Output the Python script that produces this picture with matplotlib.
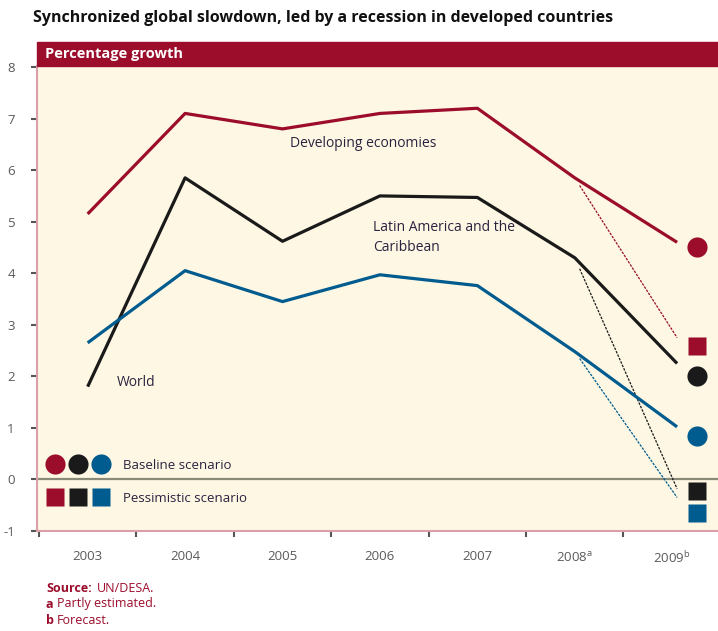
import numpy as np
import matplotlib.pyplot as plt
from matplotlib.patches import Rectangle

years = ["2003", "2004", "2005", "2006", "2007", "2008$^{\\mathregular{a}}$", "2009$^{\\mathregular{b}}$"]

developing = [5.15, 7.1, 6.8, 7.1, 7.2, 5.85, 4.6]
latin_america = [1.8, 5.85, 4.62, 5.5, 5.47, 4.3, 2.25]
world = [2.65, 4.05, 3.45, 3.97, 3.76, 2.48, 1.02]

# 2009 pessimistic path (dashed) end values
pess_line = [2.75, -0.18, -0.35]
# 2009 scenario markers
baseline_2009 = [4.5, 2.0, 0.85]
pessimistic_2009 = [2.58, -0.23, -0.66]

RED = '#9b0d2b'
BLACK = '#1a1a1a'
BLUE = '#005b8f'
CREAM = '#fdf7e3'
PINK = '#d9a0aa'
TXT = '#2a2340'
colors = [RED, BLACK, BLUE]

plt.rcParams['font.family'] = ['Open Sans', 'DejaVu Sans']

fig = plt.figure(figsize=(7.18, 6.31), dpi=100)
ax = fig.add_axes([37 / 718, 1 - 531 / 631, 1 - 37 / 718, (531 - 66) / 631])
ax.set_facecolor(CREAM)

x = np.arange(len(years))
x_end = 6.05  # lines stop a bit right of the 2009 slot centre
x_mark = 6.25

all_series = [developing, latin_america, world]
for series, col in zip(all_series, colors):
    xs = list(x[:-1]) + [x_end]
    ax.plot(xs, series, color=col, lw=2.3, solid_capstyle='butt', zorder=3)

# pessimistic path from 2008 down to 2009
for series, end, col in zip(all_series, pess_line, colors):
    ax.plot([5.05, x_end], [series[5] + 0.05 * (end - series[5]) / 1.05, end],
            color=col, lw=0.9, ls=(0, (2, 1)), zorder=2)

for b, p, col in zip(baseline_2009, pessimistic_2009, colors):
    ax.plot(x_mark, b, 'o', color=col, ms=14.5, mec='none', zorder=4)
    ax.plot(x_mark, p, 's', color=col, ms=13, mec='none', zorder=4)

ax.axhline(0, color='#8a8a78', lw=1.6, zorder=1)

# legend
for j, col in enumerate(colors):
    lx = -0.34 + j * 0.24
    ax.plot(lx, 0.29, 'o', color=col, ms=14.5, mec='none', zorder=4)
    ax.plot(lx, -0.34, 's', color=col, ms=13, mec='none', zorder=4)
ax.text(0.36, 0.27, "Baseline scenario", fontsize=9.5, color=TXT, va='center')
ax.text(0.36, -0.36, "Pessimistic scenario", fontsize=9.5, color=TXT, va='center')

# series labels
ax.text(2.08, 6.52, "Developing economies", fontsize=10, color=TXT, va='center')
ax.text(2.93, 4.69, "Latin America and the\nCaribbean", fontsize=10, color=TXT,
        va='center', linespacing=1.5)
ax.text(0.3, 1.88, "World", fontsize=10, color=TXT, va='center')

ax.set_xlim(-0.52, 6.47)
ax.set_ylim(-1, 8.02)
ax.set_yticks(np.arange(-1, 9))
ax.set_yticklabels([str(v) for v in range(-1, 9)])
ax.set_xticks(x - 0.5)
ax.set_xticklabels([])
ax.set_xticks(x, minor=True)
ax.set_xticklabels(years, minor=True)
ax.tick_params(axis='x', which='minor', length=0, pad=14, labelsize=9.5, labelcolor='#5a5a5a')
ax.tick_params(axis='x', which='major', length=4, width=1.5, color='#555555', direction='out')
ax.tick_params(axis='y', length=4, width=1.5, color='#555555', labelsize=9.5,
               labelcolor='#5a5a5a', pad=12)
for s in ['top', 'right']:
    ax.spines[s].set_visible(False)
for s in ['left', 'bottom']:
    ax.spines[s].set_color(PINK)
    ax.spines[s].set_linewidth(1.5)

# header band
fig.patches.append(Rectangle((37 / 718, 1 - 66 / 631), 1 - 37 / 718, 24 / 631,
                             transform=fig.transFigure, color=RED, zorder=5))
fig.text(45 / 718, 1 - 54 / 631, "Percentage growth", color='white', fontsize=10.5,
         fontweight='bold', va='center', zorder=6)

fig.text(33 / 718, 1 - 18 / 631,
         "Synchronized global slowdown, led by a recession in developed countries",
         fontsize=11.5, fontweight='bold', color='#111111', va='center')

fig.text(46 / 718, 1 - 588 / 631, "Source:", fontsize=9, fontweight='bold', color=RED, va='center')
fig.text(97 / 718, 1 - 588 / 631, "UN/DESA.", fontsize=9, color=RED, va='center')
fig.text(46 / 718, 1 - 604 / 631, "a", fontsize=9, fontweight='bold', color=RED, va='center')
fig.text(57 / 718, 1 - 604 / 631, "Partly estimated.", fontsize=9, color=RED, va='center')
fig.text(46 / 718, 1 - 620 / 631, "b", fontsize=9, fontweight='bold', color=RED, va='center')
fig.text(57 / 718, 1 - 620 / 631, "Forecast.", fontsize=9, color=RED, va='center')

fig.savefig("out.png", dpi=100)
